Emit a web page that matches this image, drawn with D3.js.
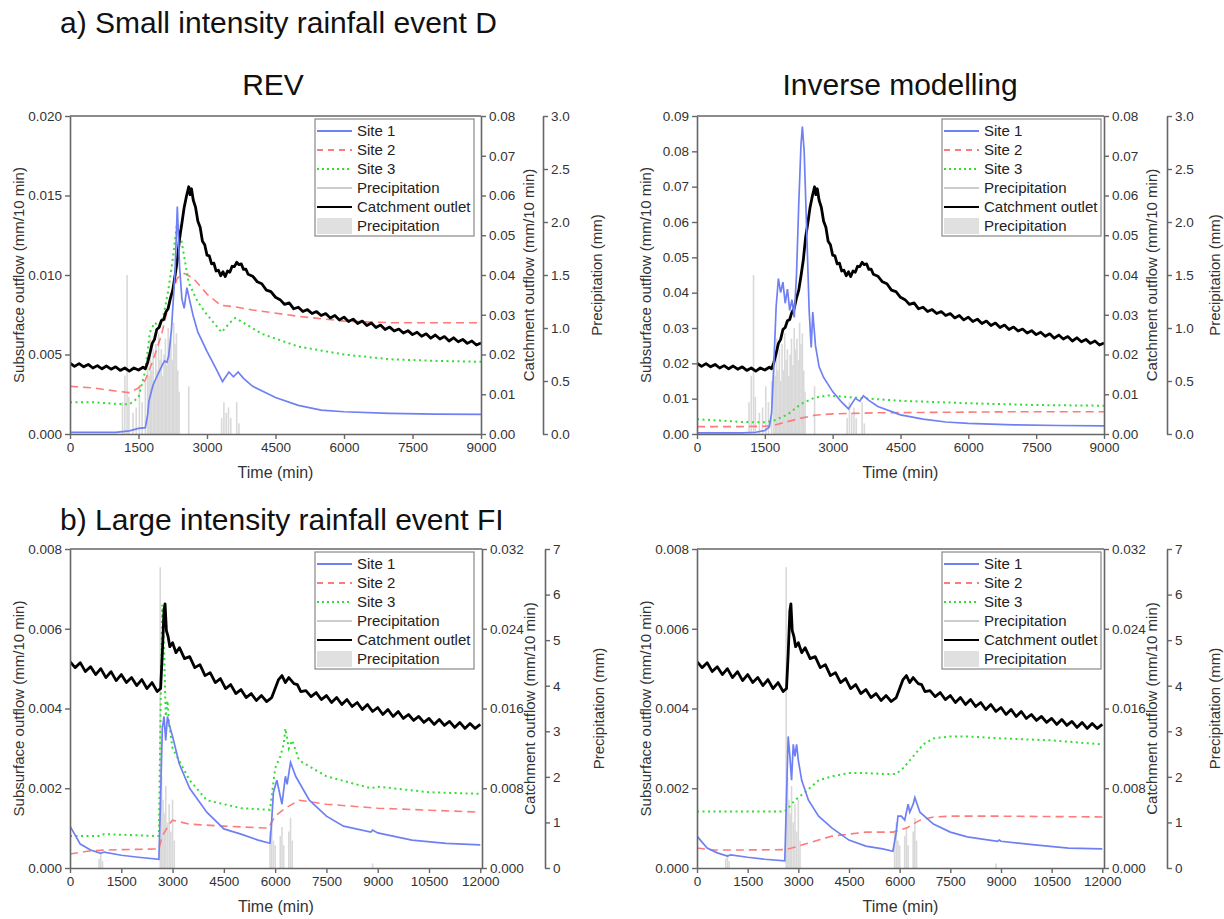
<!DOCTYPE html>
<html>
<head>
<meta charset="utf-8">
<script src="https://cdn.jsdelivr.net/npm/d3@7"></script>
<style>
body { margin: 0; background: #fff; }
text { font-family: "Liberation Sans", Arial, sans-serif; }
</style>
</head>
<body>
<div id="chart"></div>
<script>

// ---- event D (small intensity), time in min ----
var precipD = [[1150,0.3],[1200,0.55],[1250,1.5],[1290,0.35],[1380,0.2],[1450,0.25],[1520,0.45],[1580,0.3],[1650,0.5],[1700,0.75],[1730,0.55],[1760,0.9],[1790,0.6],[1820,0.8],[1850,0.5],[1880,0.85],[1910,0.6],[1940,0.95],[1970,0.7],[2000,0.8],[2030,0.55],[2060,0.75],[2090,0.9],[2120,0.65],[2150,1.0],[2180,0.8],[2210,0.9],[2240,0.7],[2270,1.05],[2300,0.85],[2330,0.95],[2360,0.6],[2390,0.4],[2600,0.45],[3320,0.15],[3370,0.3],[3420,0.2],[3470,0.25],[3520,0.15],[3650,0.3],[3700,0.1]];

var catchD = [[0,.0178],[100,.0170],[200,.0177],[300,.0169],[400,.0175],[500,.0166],[600,.0172],[700,.0164],[800,.0171],[900,.0163],[1000,.0169],[1100,.0160],[1200,.0166],[1300,.0158],[1400,.0166],[1500,.0161],[1600,.0168],[1650,.0164],[1700,.0180],[1750,.0203],[1800,.0228],[1850,.0238],[1900,.0263],[1950,.0268],[2000,.0285],[2050,.0288],[2100,.0307],[2150,.0316],[2200,.0342],[2250,.0362],[2300,.0398],[2350,.0437],[2400,.0493],[2450,.0530],[2500,.0570],[2550,.0598],[2600,.0622],[2630,.0602],[2660,.0617],[2700,.0588],[2750,.0570],[2800,.0535],[2850,.0520],[2900,.0485],[2950,.0476],[3000,.0450],[3050,.0448],[3100,.0428],[3150,.0430],[3200,.0410],[3250,.0412],[3300,.0398],[3350,.0408],[3400,.0396],[3450,.0410],[3500,.0407],[3550,.0422],[3600,.0421],[3650,.0432],[3700,.0426],[3750,.0428],[3800,.0414],[3850,.0415],[3900,.0402],[4000,.0397],[4100,.0383],[4200,.0378],[4300,.0362],[4400,.0358],[4500,.0344],[4600,.0338],[4700,.0326],[4800,.0330],[4900,.0315],[5000,.0319],[5100,.0308],[5200,.0313],[5300,.0303],[5400,.0308],[5500,.0298],[5600,.0303],[5700,.0292],[5800,.0298],[5900,.0287],[6000,.0294],[6100,.0283],[6200,.0289],[6300,.0278],[6400,.0284],[6500,.0273],[6600,.0279],[6700,.0268],[6800,.0274],[6900,.0263],[7000,.0269],[7100,.0259],[7200,.0264],[7300,.0254],[7400,.0260],[7500,.0250],[7600,.0256],[7700,.0246],[7800,.0252],[7900,.0241],[8000,.0249],[8100,.0239],[8200,.0245],[8300,.0234],[8400,.0242],[8500,.0232],[8600,.0238],[8700,.0228],[8800,.0234],[8900,.0224],[9000,.0229]];

// REV, event D
var revD_site1 = [[0,.0001],[1000,.0001],[1300,.0002],[1500,.00035],[1650,.0004],[1700,.0012],[1730,.0021],[1820,.0031],[1900,.0036],[2030,.0044],[2070,.0046],[2120,.0045],[2160,.0049],[2220,.0065],[2300,.0102],[2350,.0143],[2400,.0105],[2450,.0085],[2500,.0079],[2560,.0092],[2620,.0084],[2700,.0074],[2800,.0064],[3000,.0052],[3200,.0041],[3340,.0033],[3480,.0039],[3580,.0036],[3680,.0039],[3800,.0035],[4000,.0030],[4500,.0023],[5000,.0018],[5500,.0015],[6000,.0014],[7000,.0013],[8000,.00125],[9000,.00123]];
var revD_site2 = [[0,.0030],[500,.0029],[1000,.0027],[1300,.0026],[1500,.0029],[1650,.0034],[1800,.0045],[2000,.0062],[2200,.0086],[2350,.0098],[2500,.0101],[2700,.0098],[3000,.0088],[3300,.0081],[3600,.0080],[4000,.0078],[5000,.0074],[6000,.0071],[7000,.0070],[9000,.0070]];
var revD_site3 = [[0,.0020],[500,.0020],[1000,.0019],[1300,.00186],[1500,.0023],[1650,.0040],[1750,.0064],[1850,.0070],[1950,.0068],[2050,.0075],[2150,.0090],[2250,.0110],[2350,.0134],[2450,.0120],[2600,.0095],[2800,.0083],[3000,.0075],[3320,.0064],[3500,.0070],[3620,.0073],[3800,.0070],[4200,.0063],[5000,.0055],[6000,.0050],[7000,.0047],[8000,.0046],[9000,.00454]];

// inverse modelling, event D
var invD_site1 = [[0,.0003],[1000,.0003],[1300,.0005],[1500,.001],[1600,.002],[1650,.006],[1700,.020],[1750,.036],[1800,.044],[1850,.040],[1900,.043],[1950,.037],[2000,.041],[2050,.035],[2100,.038],[2150,.033],[2200,.045],[2250,.065],[2300,.082],[2330,.087],[2370,.080],[2420,.060],[2480,.035],[2525,.0245],[2560,.0345],[2620,.025],[2700,.019],[2800,.016],[3000,.012],[3200,.009],[3350,.0071],[3500,.0101],[3600,.0093],[3680,.0108],[3800,.0095],[4000,.0078],[4500,.0054],[5000,.0042],[5500,.0034],[6000,.0030],[7000,.0026],[8000,.0024],[9000,.0023]];
var invD_site2 = [[0,.0021],[1000,.0021],[1500,.0022],[1700,.0025],[2000,.0035],[2300,.0045],[2600,.0053],[3000,.0057],[4000,.0060],[5000,.0061],[7000,.0063],[9000,.0063]];
var invD_site3 = [[0,.0042],[500,.0038],[1000,.0034],[1500,.0033],[1700,.0038],[2000,.0055],[2300,.0085],[2600,.0103],[2900,.0109],[3500,.0103],[4500,.0094],[6000,.0087],[7500,.0082],[9000,.0080]];

// ---- event FI (large intensity) ----
var precipFI = [[850,0.2],[900,0.3],[950,0.15],[2640,6.6],[2680,2.0],[2720,1.5],[2760,1.2],[2800,1.8],[2850,1.0],[2900,1.4],[2950,0.8],[3000,1.5],[3050,0.6],[5850,0.8],[5900,1.0],[5950,0.6],[6000,0.5],[6150,0.7],[6200,0.9],[6250,0.5],[6400,0.8],[6450,1.1],[6500,0.6],[8850,0.1]];

var catchFI = [[0,.0207],[150,.0201],[300,.0206],[450,.0197],[600,.0202],[750,.0194],[900,.0200],[1050,.0191],[1200,.0197],[1350,.0188],[1500,.0194],[1650,.0186],[1800,.0191],[1950,.0183],[2100,.0189],[2250,.0180],[2400,.0186],[2550,.0177],[2650,.0180],[2700,.0215],[2750,.0258],[2780,.0265],[2820,.0238],[2870,.0232],[2920,.0222],[3000,.0226],[3100,.0216],[3200,.0221],[3350,.0210],[3500,.0212],[3650,.0201],[3800,.0204],[3950,.0193],[4100,.0196],[4250,.0186],[4400,.0190],[4550,.0180],[4700,.0184],[4850,.0175],[5000,.0179],[5150,.0171],[5300,.0175],[5450,.0168],[5600,.0173],[5750,.0167],[5900,.0171],[6000,.0180],[6100,.0189],[6200,.0193],[6300,.0186],[6400,.0191],[6550,.0185],[6650,.0184],[6750,.0177],[6900,.0178],[7050,.0172],[7200,.0176],[7350,.0169],[7500,.0173],[7650,.0166],[7800,.0171],[7950,.0164],[8100,.0169],[8250,.0162],[8400,.0166],[8550,.0159],[8700,.0164],[8850,.0157],[9000,.0161],[9150,.0154],[9300,.0159],[9450,.0152],[9600,.0157],[9750,.0150],[9900,.0154],[10050,.0148],[10200,.0152],[10350,.0146],[10500,.0150],[10650,.0144],[10800,.0149],[10950,.0143],[11100,.0147],[11250,.0141],[11400,.0146],[11550,.0140],[11700,.0145],[11850,.0140],[12000,.0144]];

// REV, event FI
var revFI_site1 = [[0,.00105],[100,.0009],[300,.0006],[600,.00045],[900,.00037],[1000,.0004],[1500,.00032],[2000,.00027],[2600,.00022],[2650,.0018],[2700,.0035],[2750,.0038],[2800,.0032],[2850,.0038],[2900,.0036],[3000,.0033],[3200,.0026],[3500,.0020],[4000,.0014],[4500,.00098],[5000,.00085],[5500,.0007],[5850,.00062],[5900,.0012],[5950,.0019],[6050,.0022],[6200,.0016],[6300,.0023],[6350,.0021],[6450,.00265],[6600,.0023],[7000,.0017],[7500,.0013],[8000,.00105],[8800,.0009],[8850,.00095],[9000,.00088],[10000,.0007],[11000,.00062],[12000,.00058]];
var revFI_site2 = [[0,.00035],[500,.00042],[1000,.00045],[2600,.00048],[2700,.0008],[2900,.0011],[3000,.0012],[3500,.0011],[4500,.00105],[5800,.0010],[6000,.0013],[6300,.0015],[6700,.0017],[7500,.0016],[9000,.0015],[10500,.00145],[12000,.0014]];
var revFI_site3 = [[0,.0008],[900,.0008],[1000,.00085],[2600,.0008],[2650,.0040],[2700,.0066],[2750,.0055],[2800,.0038],[2850,.0042],[2900,.0036],[3000,.0030],[3500,.0022],[4000,.0017],[5000,.0015],[5850,.00146],[5900,.0018],[6000,.0025],[6150,.0028],[6250,.0031],[6300,.0035],[6400,.0030],[6500,.0032],[6700,.0027],[7500,.0023],[8800,.0020],[9000,.00204],[10500,.0019],[12000,.00186]];

// inverse modelling, event FI
var invFI_site1 = [[0,.0008],[100,.0007],[300,.0005],[600,.00038],[900,.0003],[1000,.00033],[1500,.00027],[2000,.00022],[2600,.00018],[2650,.0018],[2700,.0033],[2750,.0028],[2800,.0022],[2850,.0031],[2900,.0028],[2950,.0031],[3000,.0027],[3100,.0022],[3300,.0017],[3600,.0013],[4000,.0010],[4500,.0007],[5000,.00055],[5500,.00048],[5800,.00042],[5900,.0009],[5950,.0013],[6050,.0013],[6150,.0012],[6250,.0016],[6300,.0014],[6400,.0016],[6450,.00177],[6600,.0014],[7000,.0011],[7500,.0009],[8000,.00078],[8900,.00067],[8950,.0007],[9000,.00067],[10000,.00058],[11000,.0005],[12000,.00048]];
var invFI_site2 = [[0,.0005],[500,.00045],[1000,.00045],[2600,.00046],[2800,.0005],[3200,.0006],[3600,.0007],[4000,.0008],[4500,.00085],[5000,.0009],[5800,.0009],[6200,.0010],[6600,.0012],[7000,.00128],[7500,.0013],[8000,.0013],[9000,.0013],[12000,.00128]];
var invFI_site3 = [[0,.00142],[2600,.00142],[2700,.0015],[2900,.0017],[3200,.0019],[3600,.0022],[4000,.0023],[4500,.00238],[5000,.00238],[5500,.00236],[5900,.00236],[6100,.0025],[6400,.0028],[6700,.0031],[7000,.00325],[7500,.0033],[8000,.0033],[9000,.00325],[10500,.0032],[12000,.0031]];

// axis ticks
var xTicksD = [0,1500,3000,4500,6000,7500,9000];
var xTicksFI = [0,1500,3000,4500,6000,7500,9000,10500,12000];
var revD_leftTicks = [0,0.005,0.010,0.015,0.020];
var invD_leftTicks = [0,0.01,0.02,0.03,0.04,0.05,0.06,0.07,0.08,0.09];
var catchD_ticks = [0,0.01,0.02,0.03,0.04,0.05,0.06,0.07,0.08];
var precipD_ticks = [0,0.5,1.0,1.5,2.0,2.5,3.0];
var leftFI_ticks = [0,0.002,0.004,0.006,0.008];
var catchFI_ticks = [0,0.008,0.016,0.024,0.032];
var precipFI_ticks = [0,1,2,3,4,5,6,7];

var legendLabels = ["Site 1","Site 2","Site 3","Precipitation","Catchment outlet","Precipitation"];

var svgWidth = 1224;
var svgHeight = 919;

var svg = d3.select("#chart")
    .append("svg")
    .attr("width", svgWidth)
    .attr("height", svgHeight);

var axisColor = "#666";
var textColor = "#333";

function styleAxis(g) {
    g.selectAll("path").attr("stroke", axisColor).attr("stroke-width", 1.6);
    g.selectAll("line").attr("stroke", axisColor).attr("stroke-width", 1.4);
    g.selectAll("text").attr("fill", textColor).attr("font-size", "13.5px")
        .attr("font-family", "Liberation Sans, Arial, sans-serif");
}

function drawPanel(p) {
    var x = d3.scaleLinear().domain(p.xDomain).range([p.left, p.right]);
    var yL = d3.scaleLinear().domain([0, p.leftMax]).range([p.bottom, p.top]);
    var yC = d3.scaleLinear().domain([0, p.catchMax]).range([p.bottom, p.top]);
    var yP = d3.scaleLinear().domain([0, p.precipMax]).range([p.bottom, p.top]);

    var clipId = "clip" + p.id;
    svg.append("clipPath").attr("id", clipId)
        .append("rect")
        .attr("x", p.left).attr("y", p.top)
        .attr("width", p.right - p.left).attr("height", p.bottom - p.top);

    var plot = svg.append("g").attr("clip-path", "url(#" + clipId + ")");

    // precipitation bars (behind everything)
    plot.selectAll("rect.rain")
        .data(p.precip)
        .enter()
        .append("rect")
        .attr("class", "rain")
        .attr("x", d => x(d[0]) - 0.8)
        .attr("width", 1.6)
        .attr("y", d => yP(d[1]))
        .attr("height", d => yP(0) - yP(d[1]))
        .attr("fill", "#d9d9d9");

    var lineL = d3.line().x(d => x(d[0])).y(d => yL(d[1]));
    var lineC = d3.line().x(d => x(d[0])).y(d => yC(d[1]));

    plot.append("path").datum(p.site2).attr("d", lineL)
        .attr("fill", "none").attr("stroke", "#ff7b7b").attr("stroke-width", 1.6)
        .attr("stroke-dasharray", "8,5");
    plot.append("path").datum(p.site3).attr("d", lineL)
        .attr("fill", "none").attr("stroke", "#33dd33").attr("stroke-width", 2)
        .attr("stroke-dasharray", "2,3.5");
    plot.append("path").datum(p.catch).attr("d", lineC)
        .attr("fill", "none").attr("stroke", "#000").attr("stroke-width", 2.8)
        .attr("stroke-linejoin", "round");
    plot.append("path").datum(p.site1).attr("d", lineL)
        .attr("fill", "none").attr("stroke", "#6f80f4").attr("stroke-width", 1.7);

    // top frame
    svg.append("line")
        .attr("x1", p.left).attr("x2", p.right)
        .attr("y1", p.top).attr("y2", p.top)
        .attr("stroke", axisColor).attr("stroke-width", 1.6);

    // axes
    svg.append("g")
        .attr("transform", `translate(0, ${p.bottom})`)
        .call(d3.axisBottom(x).tickValues(p.xTicks).tickFormat(d3.format("d")).tickSize(5).tickSizeOuter(0))
        .call(styleAxis);

    svg.append("g")
        .attr("transform", `translate(${p.left}, 0)`)
        .call(d3.axisLeft(yL).tickValues(p.leftTicks).tickFormat(d3.format(p.leftFmt)).tickSize(5).tickSizeOuter(0))
        .call(styleAxis);

    svg.append("g")
        .attr("transform", `translate(${p.right}, 0)`)
        .call(d3.axisRight(yC).tickValues(p.catchTicks).tickFormat(d3.format(p.catchFmt)).tickSize(5).tickSizeOuter(0))
        .call(styleAxis);

    svg.append("g")
        .attr("transform", `translate(${p.precipX}, 0)`)
        .call(d3.axisRight(yP).tickValues(p.precipTicks).tickFormat(d3.format(p.precipFmt)).tickSize(5).tickSizeOuter(0))
        .call(styleAxis);

    var midY = (p.top + p.bottom) / 2;

    // axis titles
    svg.append("text")
        .attr("transform", `translate(${p.left - 52}, ${midY}) rotate(-90)`)
        .attr("text-anchor", "middle").attr("dominant-baseline", "central")
        .attr("font-size", "15px").attr("fill", textColor)
        .text("Subsurface outflow (mm/10 min)");

    svg.append("text")
        .attr("transform", `translate(${p.right + 47}, ${midY}) rotate(-90)`)
        .attr("text-anchor", "middle").attr("dominant-baseline", "central")
        .attr("font-size", "15px").attr("fill", textColor)
        .text("Catchment outflow (mm/10 min)");

    svg.append("text")
        .attr("transform", `translate(${Math.min(p.precipX + 53, 1214)}, ${midY}) rotate(-90)`)
        .attr("text-anchor", "middle").attr("dominant-baseline", "central")
        .attr("font-size", "15px").attr("fill", textColor)
        .text("Precipitation (mm)");

    svg.append("text")
        .attr("x", (p.left + p.right) / 2)
        .attr("y", p.bottom + 44)
        .attr("text-anchor", "middle")
        .attr("font-size", "16px").attr("fill", textColor)
        .text("Time (min)");

    // legend
    var lx = p.left + 245, ly = p.top + 3;
    var legend = svg.append("g").attr("transform", `translate(${lx}, ${ly})`);
    legend.append("rect")
        .attr("width", 159).attr("height", 117)
        .attr("fill", "#fff").attr("stroke", "#888").attr("stroke-width", 1.2);

    var styles = [
        {stroke: "#6f80f4", width: 2, dash: null},
        {stroke: "#ff7b7b", width: 2, dash: "6,5"},
        {stroke: "#33dd33", width: 2, dash: "2,3"},
        {stroke: "#999", width: 1, dash: null},
        {stroke: "#000", width: 2.2, dash: null},
        {fill: "#e0e0e0"}
    ];

    legendLabels.forEach(function(label, i) {
        var cy = 12 + i * 19;
        var s = styles[i];
        if (s.fill) {
            legend.append("rect")
                .attr("x", 2).attr("y", cy - 8)
                .attr("width", 35).attr("height", 16)
                .attr("fill", s.fill);
        } else {
            legend.append("line")
                .attr("x1", 2).attr("x2", 37)
                .attr("y1", cy).attr("y2", cy)
                .attr("stroke", s.stroke).attr("stroke-width", s.width)
                .attr("stroke-dasharray", s.dash);
        }
        legend.append("text")
            .attr("x", 42).attr("y", cy + 5)
            .attr("font-size", "15px").attr("fill", "#222")
            .text(label);
    });
}

var panels = [
    {id: "TL", left: 70, right: 481, precipX: 543, top: 116, bottom: 434,
     xDomain: [0, 9000], xTicks: xTicksD,
     leftMax: 0.02, leftTicks: revD_leftTicks, leftFmt: ".3f",
     catchMax: 0.08, catchTicks: catchD_ticks, catchFmt: ".2f",
     precipMax: 3, precipTicks: precipD_ticks, precipFmt: ".1f",
     precip: precipD, catch: catchD,
     site1: revD_site1, site2: revD_site2, site3: revD_site3},
    {id: "TR", left: 697, right: 1104, precipX: 1167, top: 116, bottom: 434,
     xDomain: [0, 9000], xTicks: xTicksD,
     leftMax: 0.09, leftTicks: invD_leftTicks, leftFmt: ".2f",
     catchMax: 0.08, catchTicks: catchD_ticks, catchFmt: ".2f",
     precipMax: 3, precipTicks: precipD_ticks, precipFmt: ".1f",
     precip: precipD, catch: catchD,
     site1: invD_site1, site2: invD_site2, site3: invD_site3},
    {id: "BL", left: 70, right: 482, precipX: 545, top: 549, bottom: 868,
     xDomain: [0, 12050], xTicks: xTicksFI,
     leftMax: 0.008, leftTicks: leftFI_ticks, leftFmt: ".3f",
     catchMax: 0.032, catchTicks: catchFI_ticks, catchFmt: ".3f",
     precipMax: 7, precipTicks: precipFI_ticks, precipFmt: "d",
     precip: precipFI, catch: catchFI,
     site1: revFI_site1, site2: revFI_site2, site3: revFI_site3},
    {id: "BR", left: 697, right: 1104, precipX: 1167, top: 549, bottom: 868,
     xDomain: [0, 12050], xTicks: xTicksFI,
     leftMax: 0.008, leftTicks: leftFI_ticks, leftFmt: ".3f",
     catchMax: 0.032, catchTicks: catchFI_ticks, catchFmt: ".3f",
     precipMax: 7, precipTicks: precipFI_ticks, precipFmt: "d",
     precip: precipFI, catch: catchFI,
     site1: invFI_site1, site2: invFI_site2, site3: invFI_site3}
];

panels.forEach(drawPanel);

// headings
svg.append("text").attr("x", 60).attr("y", 33)
    .attr("font-size", "30px").attr("fill", "#111")
    .text("a) Small intensity rainfall event D");
svg.append("text").attr("x", 60).attr("y", 530)
    .attr("font-size", "30px").attr("fill", "#111")
    .text("b) Large intensity rainfall event FI");
svg.append("text").attr("x", 273).attr("y", 95)
    .attr("text-anchor", "middle")
    .attr("font-size", "30px").attr("fill", "#111")
    .text("REV");
svg.append("text").attr("x", 900).attr("y", 95)
    .attr("text-anchor", "middle")
    .attr("font-size", "30px").attr("fill", "#111")
    .text("Inverse modelling");

</script>
</body>
</html>
